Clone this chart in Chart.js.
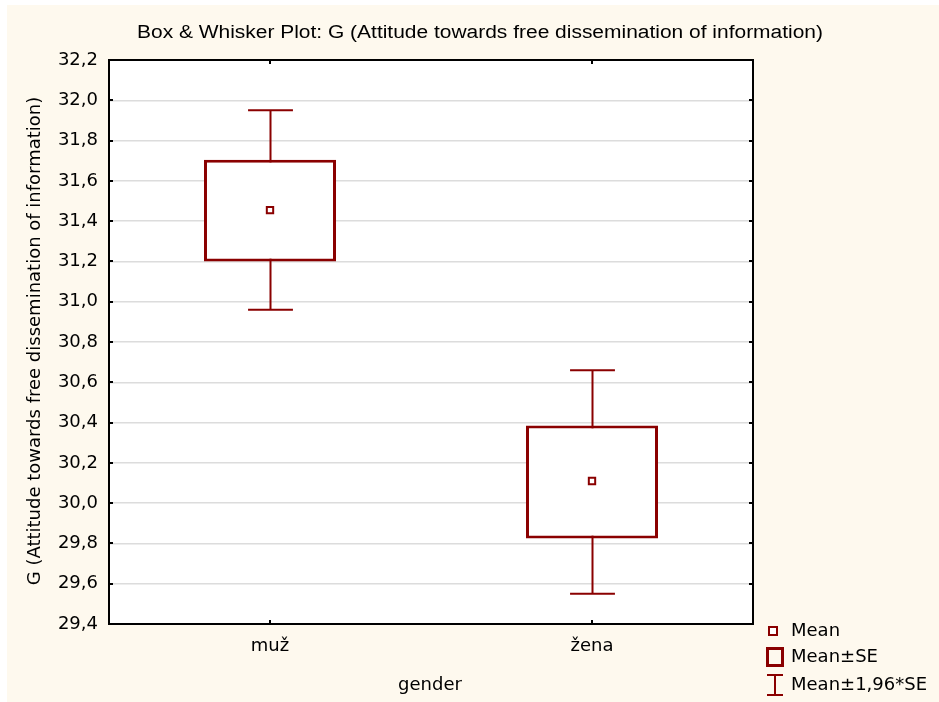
<!DOCTYPE html>
<html lang="en">
<head>
    <meta charset="UTF-8">
    <title>Box & Whisker Plot: G</title>
    <style>
        html, body {
            margin: 0;
            padding: 0;
            background: #ffffff;
            overflow: hidden;
        }
        canvas {
            display: block;
        }
    </style>
    <script src="https://cdn.jsdelivr.net/npm/chart.js"></script>
</head>
<body>
    <canvas id="boxChart" width="939" height="702"></canvas>

    <script>
        // values
        const categories = ['muž', 'žena'];
        const means = [31.455, 30.11];
        const seLow = [31.20, 29.825];
        const seHigh = [31.705, 30.385];
        const ciLow = [30.96, 29.55];
        const ciHigh = [31.95, 30.66];
        const yTicks = [29.4, 29.6, 29.8, 30.0, 30.2, 30.4, 30.6, 30.8, 31.0, 31.2, 31.4, 31.6, 31.8, 32.0, 32.2];

        const darkRed = '#8a0000';
        const cream = '#fef9ee';
        const tickFont = 'DejaVu Sans';

        const comma = v => v.toFixed(1).replace('.', ',');

        const frameAndText = {
            id: 'frameAndText',
            beforeDraw(chart) {
                const ctx = chart.ctx;
                const a = chart.chartArea;
                ctx.save();
                ctx.fillStyle = '#ffffff';
                ctx.fillRect(0, 0, chart.width, chart.height);
                ctx.fillStyle = cream;
                ctx.fillRect(7, 5, chart.width - 7, chart.height - 5);
                ctx.fillStyle = '#ffffff';
                ctx.fillRect(a.left, a.top, a.right - a.left, a.bottom - a.top);
                ctx.restore();
            },
            beforeDatasetsDraw(chart) {
                // whiskers, the box fill covers the part inside
                const ctx = chart.ctx;
                const x = chart.scales.x, y = chart.scales.y;
                const bars = chart.getDatasetMeta(0).data;
                ctx.save();
                ctx.strokeStyle = darkRed;
                ctx.lineWidth = 2;
                categories.forEach((c, i) => {
                    const cx = Math.round(x.getPixelForValue(i)) + 0.5;
                    const half = bars[i].width * 0.17;
                    const yl = y.getPixelForValue(ciLow[i]);
                    const yh = y.getPixelForValue(ciHigh[i]);
                    ctx.beginPath();
                    ctx.moveTo(cx, yh);
                    ctx.lineTo(cx, yl);
                    ctx.moveTo(cx - half, yh);
                    ctx.lineTo(cx + half, yh);
                    ctx.moveTo(cx - half, yl);
                    ctx.lineTo(cx + half, yl);
                    ctx.stroke();
                });
                ctx.restore();
            },
            afterDraw(chart) {
                const ctx = chart.ctx;
                const a = chart.chartArea;
                const x = chart.scales.x, y = chart.scales.y;
                ctx.save();

                // inward tick marks on all four sides
                ctx.strokeStyle = '#000';
                ctx.lineWidth = 2;
                ctx.beginPath();
                y.ticks.forEach(t => {
                    const py = Math.round(y.getPixelForValue(t.value));
                    ctx.moveTo(a.left, py);
                    ctx.lineTo(a.left + 4, py);
                    ctx.moveTo(a.right, py);
                    ctx.lineTo(a.right - 4, py);
                });
                categories.forEach((c, i) => {
                    const px = Math.round(x.getPixelForValue(i));
                    ctx.moveTo(px, a.top);
                    ctx.lineTo(px, a.top + 4);
                    ctx.moveTo(px, a.bottom);
                    ctx.lineTo(px, a.bottom - 4);
                });
                ctx.stroke();

                // frame
                ctx.strokeRect(a.left, a.top, a.right - a.left, a.bottom - a.top);

                // title
                const title = 'Box & Whisker Plot: G (Attitude towards free dissemination of information)';
                ctx.fillStyle = '#000';
                ctx.font = '18px "Liberation Sans Narrow", "Liberation Sans", Arial';
                ctx.textBaseline = 'middle';
                ctx.textAlign = 'left';
                const tw = ctx.measureText(title).width;
                ctx.save();
                ctx.translate(137, 33);
                ctx.scale(686 / tw, 1);
                ctx.fillText(title, 0, 0);
                ctx.restore();

                // axis titles
                ctx.textAlign = 'center';
                ctx.font = '18px "' + tickFont + '"';
                ctx.fillText('gender', 430, 685);
                ctx.save();
                ctx.translate(35, 341);
                ctx.rotate(-Math.PI / 2);
                ctx.font = '18px "' + tickFont + '"';
                ctx.fillText('G (Attitude towards free dissemination of information)', 0, 0);
                ctx.restore();

                // legend
                ctx.strokeStyle = darkRed;
                ctx.lineWidth = 2;
                ctx.fillStyle = '#fff';
                ctx.fillRect(769, 627, 8, 8);
                ctx.strokeRect(769, 627, 8, 8);
                ctx.lineWidth = 3;
                ctx.strokeRect(767.5, 648.5, 15, 17);
                ctx.lineWidth = 2;
                ctx.beginPath();
                ctx.moveTo(775, 675);
                ctx.lineTo(775, 695);
                ctx.moveTo(767, 675);
                ctx.lineTo(783, 675);
                ctx.moveTo(767, 695);
                ctx.lineTo(783, 695);
                ctx.stroke();

                ctx.fillStyle = '#000';
                ctx.textAlign = 'left';
                ctx.font = '18px "' + tickFont + '"';
                ctx.fillText('Mean', 791, 631);
                ctx.fillText('Mean±SE', 791, 657);
                ctx.fillText('Mean±1,96*SE', 791, 685);
                ctx.restore();
            }
        };

        new Chart(document.getElementById('boxChart').getContext('2d'), {
            type: 'bar',
            data: {
                labels: categories,
                datasets: [{
                    label: 'Mean±SE',
                    data: seLow.map((lo, i) => [lo, seHigh[i]]),
                    backgroundColor: '#ffffff',
                    borderColor: darkRed,
                    borderWidth: 3,
                    borderSkipped: false,
                    barPercentage: 0.41,
                    categoryPercentage: 1.0,
                    order: 2
                }, {
                    type: 'line',
                    label: 'Mean',
                    data: means,
                    showLine: false,
                    pointStyle: 'rect',
                    pointRadius: 4.5,
                    pointBorderWidth: 2,
                    pointBackgroundColor: '#ffffff',
                    pointBorderColor: darkRed,
                    order: 1
                }]
            },
            options: {
                responsive: false,
                animation: false,
                devicePixelRatio: 1,
                layout: {
                    padding: { top: 60, right: 186, left: 0, bottom: 0 }
                },
                plugins: {
                    legend: { display: false },
                    tooltip: { enabled: false }
                },
                scales: {
                    x: {
                        grid: { display: false, drawTicks: false },
                        border: { display: false },
                        ticks: {
                            color: '#000',
                            font: { family: tickFont, size: 18 },
                            padding: 12
                        },
                        afterFit(scale) { scale.height = 78; }
                    },
                    y: {
                        min: 29.4,
                        max: 32.2,
                        afterBuildTicks(scale) {
                            scale.ticks = yTicks.map(v => ({ value: v }));
                        },
                        grid: {
                            color: '#dcdcdc',
                            lineWidth: 1.5,
                            drawTicks: false
                        },
                        border: { display: false },
                        ticks: {
                            color: '#000',
                            font: { family: tickFont, size: 18 },
                            padding: 11,
                            callback: v => comma(v)
                        },
                        afterFit(scale) { scale.width = 109; }
                    }
                }
            },
            plugins: [frameAndText]
        });
    </script>
</body>
</html>
